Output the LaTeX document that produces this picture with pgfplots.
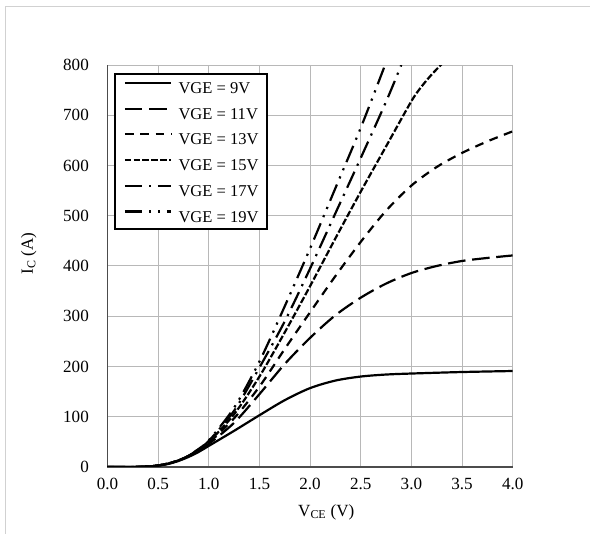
\documentclass[border=0pt]{standalone}
\usepackage{fontspec}
\setmainfont{Liberation Serif}
\usepackage{pgfplots}
\pgfplotsset{compat=1.18}

\begin{document}
\begin{tikzpicture}
% page = 590 x 534 px, 1 px = 0.75 pt, plot area lower left at (0,0)
\useasboundingbox (-80.625pt,-50.25pt) rectangle (361.875pt,350.25pt);
\draw[black!18, line width=0.75pt] (-76.5pt,-50.25pt) -- (-76.5pt,345pt) -- (361.875pt,345pt);
\begin{axis}[
  scale only axis,
  width=303.9pt, height=301.5pt,
  xmin=0, xmax=4, ymin=0, ymax=800,
  xtick={0,0.5,...,4}, ytick={0,100,...,800},
  /pgf/number format/assume math mode=true,
  ticklabel style={font=\fontsize{12.8}{15}\selectfont},
  yticklabel style={xshift=-10.5pt},
  xticklabel style={yshift=-5pt, /pgf/number format/fixed,
    /pgf/number format/fixed zerofill, /pgf/number format/precision=1},
  major tick length=0pt,
  axis x line*=bottom, axis y line*=left,
  axis line style={-, draw=black!70, line width=0.9pt},
  grid=major,
  major grid style={draw=black!28, line width=0.75pt},
  xlabel={V\textsubscript{CE} (V)},
  ylabel={I\textsubscript{C} (A)},
  label style={font=\fontsize{12.8}{15}\selectfont},
  xlabel style={at={(axis description cs:0.54,-0.122)}, anchor=base},
  ylabel style={at={(axis description cs:-0.184,0.531)}, anchor=base, rotate=0},
  legend style={at={(axis description cs:0.016,0.979)}, anchor=north west,
    draw=black, line width=1.5pt, fill=white,
    font=\fontsize{12.4}{15}\selectfont,
    inner xsep=6.5pt, inner ysep=5.5pt, row sep=10.6pt,
    nodes={inner sep=0pt, text height=8.7pt, text depth=0pt},
    /tikz/every odd column/.append style={column sep=4.5pt}},
  legend cell align=left,
  legend image code/.code={\draw[#1] (0pt,3.5pt) -- (35pt,3.5pt);},
  every axis plot/.append style={line width=1.65pt, black, smooth},
]
% VGE = 9V
\addplot[solid] coordinates {
  (0,0) (0.2,0) (0.4,1) (0.5,3) (0.6,6) (0.7,12) (0.8,20) (0.9,30) (1.0,42)
  (1.25,72) (1.5,103) (1.75,133) (2.0,157) (2.25,172) (2.5,180) (2.75,184)
  (3.0,186) (3.5,189) (4.0,191)
};
% VGE = 11V
\addplot[dash pattern=on 13.2pt off 5pt] coordinates {
  (0,0) (0.2,0) (0.4,1) (0.5,3) (0.6,7) (0.7,13) (0.8,22) (0.9,33) (1.0,46)
  (1.25,88) (1.5,145) (1.75,205) (2.0,257) (2.25,302) (2.5,337) (2.75,365)
  (3.0,386) (3.25,400) (3.5,410) (3.75,416) (4.0,421)
};
% VGE = 13V
\addplot[dash pattern=on 6.6pt off 5pt] coordinates {
  (0,0) (0.2,0) (0.4,1) (0.5,3) (0.6,7) (0.7,13) (0.8,22) (0.9,34) (1.0,48)
  (1.25,97) (1.5,160) (1.75,235) (2.0,308) (2.25,380) (2.5,448) (2.75,510)
  (3.0,560) (3.25,597) (3.5,625) (3.75,648) (4.0,668)
};
% VGE = 15V
\addplot[dash pattern=on 5pt off 1.65pt] coordinates {
  (0,0) (0.2,0) (0.4,1) (0.5,3) (0.6,7) (0.7,13) (0.8,22) (0.9,35) (1.0,50)
  (1.25,105) (1.5,180) (1.75,268) (2.0,360) (2.25,455) (2.5,548) (2.75,638)
  (3.0,728) (3.1,757) (3.2,781) (3.3,802)
};
% VGE = 17V
\addplot[dash pattern=on 13.2pt off 5pt on 1.65pt off 5pt] coordinates {
  (0,0) (0.2,0) (0.4,1) (0.5,3) (0.6,7) (0.7,13) (0.8,22) (0.9,36) (1.0,52)
  (1.25,112) (1.5,198) (1.75,290) (2.0,395) (2.25,505) (2.5,615) (2.75,727)
  (2.9,800)
};
% VGE = 19V
\addplot[dash pattern=on 13.2pt off 5pt on 1.65pt off 5pt on 1.65pt off 5pt] coordinates {
  (0,0) (0.2,0) (0.4,1) (0.5,3) (0.6,7) (0.7,13) (0.8,22) (0.9,36) (1.0,53)
  (1.25,118) (1.5,210) (1.75,320) (2.0,435) (2.25,555) (2.5,675) (2.74,800)
};
\legend{VGE = 9V, VGE = 11V, VGE = 13V, VGE = 15V, VGE = 17V, VGE = 19V}
\end{axis}
\end{tikzpicture}
\end{document}
